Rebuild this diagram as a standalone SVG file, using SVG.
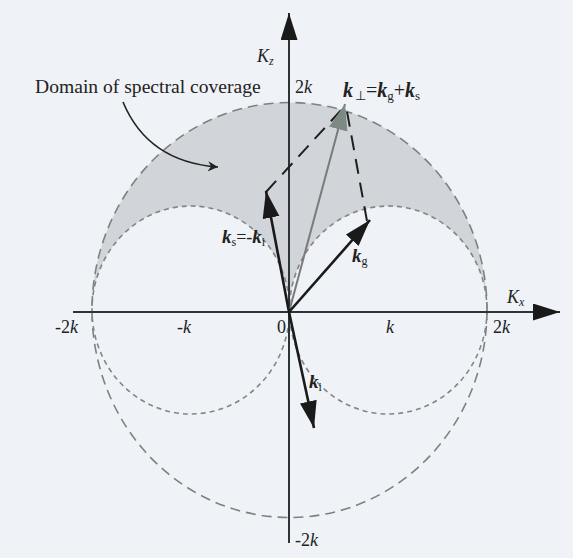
<svg xmlns="http://www.w3.org/2000/svg" width="573" height="558" viewBox="0 0 573 558">
<style>
text{font-family:"Liberation Serif","Times New Roman",serif;fill:#222}
.lbl{font-size:18px}
.it{font-style:italic}
.bk{font-weight:bold;font-style:italic;font-size:19px}
.bk2{font-weight:bold;font-style:italic;font-size:20px}
.sub{font-size:12px}
.sub2{font-size:13px}
.big{fill:none;stroke:#808080;stroke-width:1.6;stroke-dasharray:10 6}
.small{fill:none;stroke:#858585;stroke-width:1.6;stroke-dasharray:5 4}
.axis{stroke:#2c3438;stroke-width:2;fill:none}
.vec{stroke:#1a1a1a;stroke-width:2.6;fill:none}
.gvec{stroke:#7a7a7a;stroke-width:2;fill:none}
.dash{stroke:#1e1e1e;stroke-width:2;stroke-dasharray:15 9;fill:none}
</style>
<defs>
<marker id="ah" markerUnits="userSpaceOnUse" markerWidth="30" markerHeight="20" refX="27" refY="8.5" orient="auto">
<path d="M0,0 L27,8.5 L0,17 z" fill="#1a1a1a"/>
</marker>
<marker id="ahg" markerUnits="userSpaceOnUse" markerWidth="30" markerHeight="22" refX="26" refY="9.5" orient="auto">
<path d="M0,0 L26,9.5 L0,19 z" fill="#7d8a84"/>
</marker>
<marker id="ahs" markerUnits="userSpaceOnUse" markerWidth="12" markerHeight="12" refX="10" refY="5" orient="auto">
<path d="M0,0 L10,5 L0,10 L3,5 z" fill="#222"/>
</marker>
</defs>
<rect width="573" height="558" fill="#eff2f6"/>
<g id="coverage-domain">
<path d="M92,310 A197.5,207.5 0 0 1 487,310 A98.75,104 0 0 0 289.5,310 A98.75,104 0 0 0 92,310 Z" fill="#d1d4d9"/>
</g>
<g id="circles">
<ellipse class="big" cx="289.5" cy="310" rx="197.5" ry="207.5"/>
<ellipse class="small" cx="190.75" cy="310" rx="98.75" ry="104"/>
<ellipse class="small" cx="388.25" cy="310" rx="98.75" ry="104"/>
</g>
<g id="axes">
<line class="axis" x1="73" y1="312" x2="560" y2="312" marker-end="url(#ah)"/>
<line class="axis" x1="289" y1="543" x2="289" y2="13" marker-end="url(#ah)"/>
</g>
<g id="connectors">
<line class="dash" x1="266" y1="192" x2="343" y2="108"/>
<line class="dash" x1="367" y1="221" x2="346" y2="106"/>
<line class="gvec" x1="289" y1="312" x2="345" y2="104" marker-end="url(#ahg)"/>
<line class="vec" x1="289" y1="312" x2="266" y2="191" marker-end="url(#ah)"/>
<line class="vec" x1="289" y1="312" x2="370" y2="220" marker-end="url(#ah)"/>
<line class="vec" x1="289" y1="312" x2="314" y2="428" marker-end="url(#ah)"/>
<path d="M123,102 Q148,162 218,167" fill="none" stroke="#222" stroke-width="1.6" marker-end="url(#ahs)"/>
</g>
<g id="labels">
<text x="35" y="93" style="font-size:19.6px">Domain of spectral coverage</text>
<text x="257" y="62" class="lbl it">K<tspan class="sub" dy="3">z</tspan></text>
<text x="507" y="303" class="lbl it">K<tspan class="sub" dy="3">x</tspan></text>
<text x="295" y="93" class="lbl">2<tspan class="it">k</tspan></text>
<text x="295" y="546" class="lbl">-2<tspan class="it">k</tspan></text>
<text x="55" y="333" class="lbl">-2<tspan class="it">k</tspan></text>
<text x="177" y="333" class="lbl">-<tspan class="it">k</tspan></text>
<text x="277" y="333" class="lbl">0</text>
<text x="386" y="333" class="lbl it">k</text>
<text x="493" y="333" class="lbl">2<tspan class="it">k</tspan></text>
<text x="343" y="97" style="font-size:20px"><tspan class="bk2">k</tspan><tspan class="sub2" dx="2" dy="3">⊥</tspan><tspan dy="-3">=</tspan><tspan class="bk2">k</tspan><tspan class="sub2" dy="3">g</tspan><tspan dy="-3">+</tspan><tspan class="bk2">k</tspan><tspan class="sub2" dy="3">s</tspan></text>
<text x="222" y="243" class="lbl"><tspan class="bk">k</tspan><tspan class="sub" dy="3">s</tspan><tspan dy="-3">=-</tspan><tspan class="bk">k</tspan><tspan class="sub" dy="3">i</tspan></text>
<text x="352" y="262" class="lbl"><tspan class="bk">k</tspan><tspan class="sub" dy="3">g</tspan></text>
<text x="309" y="388" class="lbl"><tspan class="bk">k</tspan><tspan class="sub" dy="3">i</tspan></text>
</g>
</svg>
